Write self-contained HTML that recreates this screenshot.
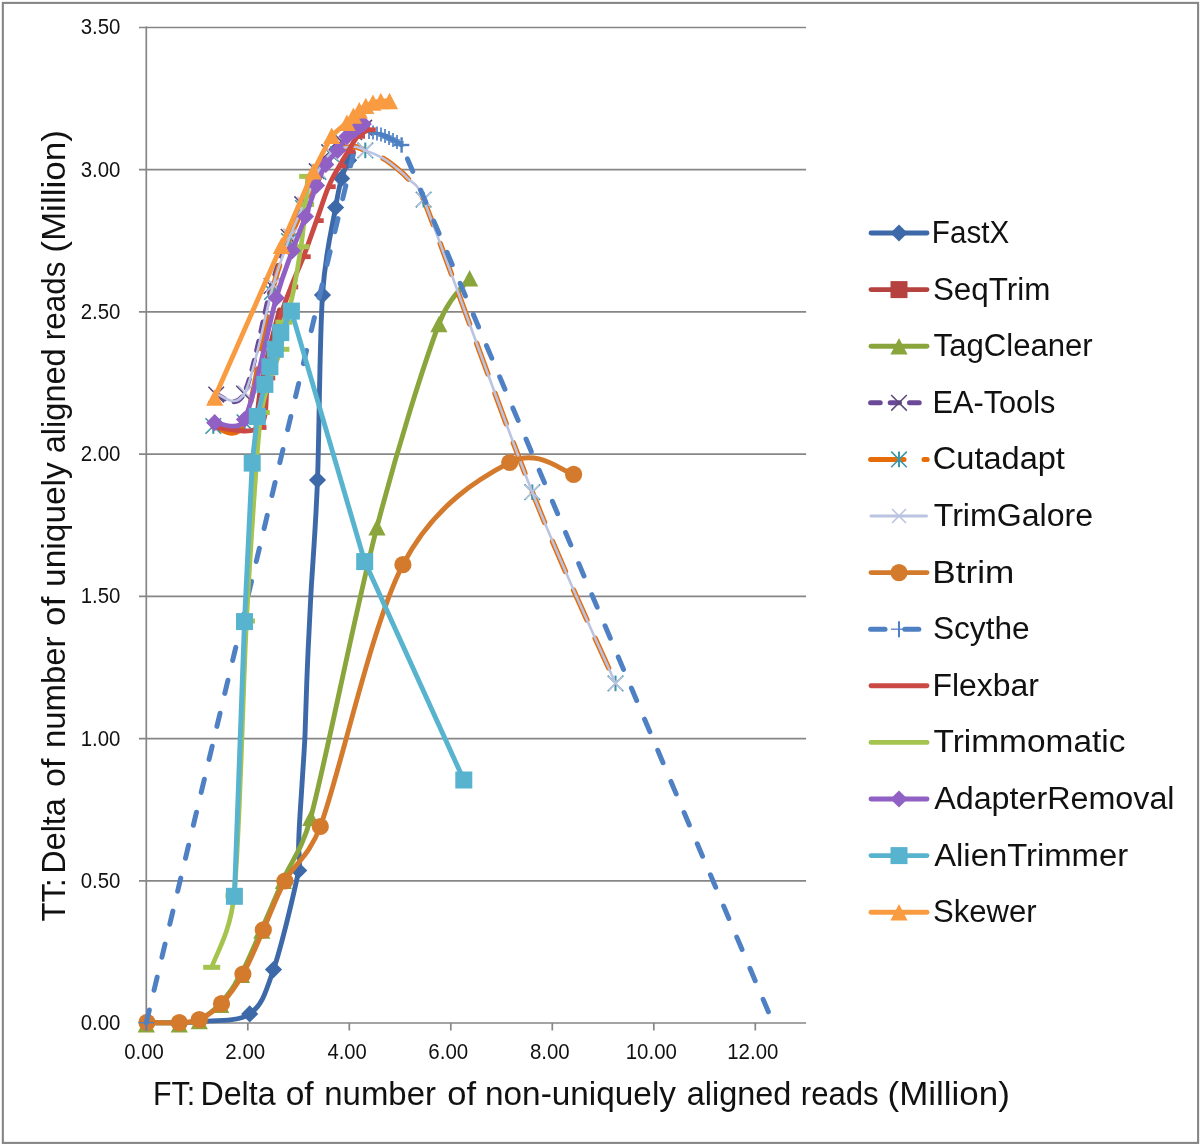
<!DOCTYPE html>
<html lang="en"><head><meta charset="utf-8"><title>Adapter trimming chart</title>
<style>html,body{margin:0;padding:0;background:#fff}body{width:1200px;height:1145px;overflow:hidden}svg{display:block}text{font-family:"Liberation Sans",sans-serif;fill:#111111}</style></head><body>
<svg width="1200" height="1145" viewBox="0 0 1200 1145" style="will-change:transform">
<rect x="0" y="0" width="1200" height="1145" fill="#fff"/>
<rect x="2.85" y="2.9" width="1195.25" height="1140" fill="none" stroke="#868686" stroke-width="2.1"/>
<path d="M139 1023 H806.1" stroke="#868686" stroke-width="1.7" fill="none"/>
<path d="M139 880.8 H806.1" stroke="#868686" stroke-width="1.7" fill="none"/>
<path d="M139 738.6 H806.1" stroke="#868686" stroke-width="1.7" fill="none"/>
<path d="M139 596.3 H806.1" stroke="#868686" stroke-width="1.7" fill="none"/>
<path d="M139 454.1 H806.1" stroke="#868686" stroke-width="1.7" fill="none"/>
<path d="M139 311.9 H806.1" stroke="#868686" stroke-width="1.7" fill="none"/>
<path d="M139 169.7 H806.1" stroke="#868686" stroke-width="1.7" fill="none"/>
<path d="M139 27.5 H806.1" stroke="#868686" stroke-width="1.7" fill="none"/>
<path d="M146.3 26.6 V1023.9" stroke="#868686" stroke-width="1.7" fill="none"/>
<path d="M146.3 1023 V1030.5" stroke="#868686" stroke-width="1.7" fill="none"/>
<path d="M247.8 1023 V1030.5" stroke="#868686" stroke-width="1.7" fill="none"/>
<path d="M349.3 1023 V1030.5" stroke="#868686" stroke-width="1.7" fill="none"/>
<path d="M450.8 1023 V1030.5" stroke="#868686" stroke-width="1.7" fill="none"/>
<path d="M552.3 1023 V1030.5" stroke="#868686" stroke-width="1.7" fill="none"/>
<path d="M653.8 1023 V1030.5" stroke="#868686" stroke-width="1.7" fill="none"/>
<path d="M755.3 1023 V1030.5" stroke="#868686" stroke-width="1.7" fill="none"/>
<text x="80.69" y="1029.9" font-size="22" textLength="39.75" lengthAdjust="spacingAndGlyphs">0.00</text>
<text x="80.69" y="887.7" font-size="22" textLength="39.75" lengthAdjust="spacingAndGlyphs">0.50</text>
<text x="80.69" y="745.5" font-size="22" textLength="39.75" lengthAdjust="spacingAndGlyphs">1.00</text>
<text x="80.69" y="603.2" font-size="22" textLength="39.75" lengthAdjust="spacingAndGlyphs">1.50</text>
<text x="80.69" y="461" font-size="22" textLength="39.75" lengthAdjust="spacingAndGlyphs">2.00</text>
<text x="80.69" y="318.8" font-size="22" textLength="39.75" lengthAdjust="spacingAndGlyphs">2.50</text>
<text x="80.69" y="176.6" font-size="22" textLength="39.75" lengthAdjust="spacingAndGlyphs">3.00</text>
<text x="80.69" y="34.4" font-size="22" textLength="39.75" lengthAdjust="spacingAndGlyphs">3.50</text>
<text x="124.19" y="1059.2" font-size="22" textLength="39.54" lengthAdjust="spacingAndGlyphs">0.00</text>
<text x="225.27" y="1059.2" font-size="22" textLength="39.97" lengthAdjust="spacingAndGlyphs">2.00</text>
<text x="327.40" y="1059.2" font-size="22" textLength="39.33" lengthAdjust="spacingAndGlyphs">4.00</text>
<text x="428.27" y="1059.2" font-size="22" textLength="39.97" lengthAdjust="spacingAndGlyphs">6.00</text>
<text x="529.98" y="1059.2" font-size="22" textLength="39.76" lengthAdjust="spacingAndGlyphs">8.00</text>
<text x="625.77" y="1059.2" font-size="22" textLength="51.07" lengthAdjust="spacingAndGlyphs">10.00</text>
<text x="727.27" y="1059.2" font-size="22" textLength="51.07" lengthAdjust="spacingAndGlyphs">12.00</text>
<text x="153.08" y="1104.7" font-size="32.5" textLength="42.09" lengthAdjust="spacingAndGlyphs">FT:</text>
<text x="200.42" y="1104.7" font-size="32.5" textLength="75.20" lengthAdjust="spacingAndGlyphs">Delta</text>
<text x="285.66" y="1104.7" font-size="32.5" textLength="28.02" lengthAdjust="spacingAndGlyphs">of</text>
<text x="324.27" y="1104.7" font-size="32.5" textLength="111.65" lengthAdjust="spacingAndGlyphs">number</text>
<text x="447.37" y="1104.7" font-size="32.5" textLength="28.81" lengthAdjust="spacingAndGlyphs">of</text>
<text x="485.00" y="1104.7" font-size="32.5" textLength="191.00" lengthAdjust="spacingAndGlyphs">non-uniquely</text>
<text x="686.80" y="1104.7" font-size="32.5" textLength="104.62" lengthAdjust="spacingAndGlyphs">aligned</text>
<text x="800.83" y="1104.7" font-size="32.5" textLength="77.80" lengthAdjust="spacingAndGlyphs">reads</text>
<text x="887.50" y="1104.7" font-size="32.5" textLength="122.35" lengthAdjust="spacingAndGlyphs">(Million)</text>
<text transform="translate(64.7 920.90) rotate(-90)" x="-0.62" y="0" font-size="32.5" textLength="43.26" lengthAdjust="spacingAndGlyphs">TT:</text>
<text transform="translate(64.7 871.10) rotate(-90)" x="-2.59" y="0" font-size="32.5" textLength="75.46" lengthAdjust="spacingAndGlyphs">Delta</text>
<text transform="translate(64.7 785.60) rotate(-90)" x="-1.37" y="0" font-size="32.5" textLength="28.60" lengthAdjust="spacingAndGlyphs">of</text>
<text transform="translate(64.7 746.00) rotate(-90)" x="-1.97" y="0" font-size="32.5" textLength="111.40" lengthAdjust="spacingAndGlyphs">number</text>
<text transform="translate(64.7 624.50) rotate(-90)" x="-1.41" y="0" font-size="32.5" textLength="29.33" lengthAdjust="spacingAndGlyphs">of</text>
<text transform="translate(64.7 584.90) rotate(-90)" x="-2.01" y="0" font-size="32.5" textLength="124.71" lengthAdjust="spacingAndGlyphs">uniquely</text>
<text transform="translate(64.7 452.00) rotate(-90)" x="-1.30" y="0" font-size="32.5" textLength="105.03" lengthAdjust="spacingAndGlyphs">aligned</text>
<text transform="translate(64.7 338.30) rotate(-90)" x="-1.89" y="0" font-size="32.5" textLength="78.63" lengthAdjust="spacingAndGlyphs">reads</text>
<text transform="translate(64.7 250.70) rotate(-90)" x="-2.10" y="0" font-size="32.5" textLength="122.76" lengthAdjust="spacingAndGlyphs">(Million)</text>
<path d="M146.3 1022.7 C151.8 1022.7 170.2 1022.9 179 1022.7 C187.8 1022.5 189.1 1022.7 199 1021.5 C210.8 1020 237.3 1022.5 249.7 1013.9 C262.1 1005.2 265.4 993.4 273.5 969.6 C281.7 945.7 294.5 891.1 298.7 870.5 C301.1 858.5 298.4 855.2 298.6 846 C298.8 836.8 299.3 826.8 300 815 C300.7 803.2 301.8 788.3 302.6 775 C303.4 761.7 304.2 752.7 305 735 C305.8 717.3 306.3 692.2 307.3 669 C308.3 645.8 309.1 627.5 310.8 596 C312.5 564.5 315.6 530.1 317.5 480 C319.4 429.9 319.5 340.5 322.5 295.1 C325.4 250.9 332.4 226.9 335.6 207.5 C338 192.8 339.4 186.3 341.6 178.4 C343.8 170.5 347.4 163.3 348.6 160.3" fill="none" stroke="#3D69A8" stroke-width="4.9" stroke-linecap="round" stroke-linejoin="round"/>
<path d="M249.7 1005.3 L258.3 1013.9 L249.7 1022.5 L241.1 1013.9Z" fill="#3D69A8"/>
<path d="M273.5 961 L282.1 969.6 L273.5 978.2 L264.9 969.6Z" fill="#3D69A8"/>
<path d="M298.7 861.9 L307.3 870.5 L298.7 879.1 L290.1 870.5Z" fill="#3D69A8"/>
<path d="M317.5 471.4 L326.1 480 L317.5 488.6 L308.9 480Z" fill="#3D69A8"/>
<path d="M322.5 286.5 L331.1 295.1 L322.5 303.7 L313.9 295.1Z" fill="#3D69A8"/>
<path d="M335.6 198.9 L344.2 207.5 L335.6 216.1 L327 207.5Z" fill="#3D69A8"/>
<path d="M341.6 169.8 L350.2 178.4 L341.6 187 L333 178.4Z" fill="#3D69A8"/>
<path d="M348.6 151.7 L357.2 160.3 L348.6 168.9 L340 160.3Z" fill="#3D69A8"/>
<path d="M256 428 C257 420 258.1 399.7 262 380 C265.9 360.3 276.5 321.7 279.4 310" fill="none" stroke="#B5423F" stroke-width="4.9" stroke-linecap="round" stroke-linejoin="round"/>
<path d="M146.3 1022.7 C151.8 1022.7 170.5 1023.2 179.3 1022.7 C188.1 1022.2 192.4 1022.9 199.3 1019.6 C206.2 1016.4 213.7 1010.9 220.7 1003.2 C227.7 995.5 234.7 985.8 241.5 973.4 C248.3 961 254.8 944.7 261.8 929 C268.8 913.3 275.2 897.8 283.4 879.2 C291.6 860.6 302.1 850.1 310.8 817.5 C326.4 758.8 355.6 609.3 377 527 C398.4 444.7 423.5 365.4 438.9 323.9 C448.5 298.1 464.5 285.7 469.6 278.1" fill="none" stroke="#89A53C" stroke-width="4.9" stroke-linecap="round" stroke-linejoin="round"/>
<path d="M146.3 1016 L154.9 1032.4 L137.7 1032.4Z" fill="#89A53C"/>
<path d="M179.3 1016 L187.9 1032.4 L170.7 1032.4Z" fill="#89A53C"/>
<path d="M199.3 1012.9 L207.9 1029.3 L190.7 1029.3Z" fill="#89A53C"/>
<path d="M220.7 996.5 L229.3 1012.9 L212.1 1012.9Z" fill="#89A53C"/>
<path d="M241.5 966.7 L250.1 983.1 L232.9 983.1Z" fill="#89A53C"/>
<path d="M261.8 922.3 L270.4 938.7 L253.2 938.7Z" fill="#89A53C"/>
<path d="M283.4 872.5 L292 888.9 L274.8 888.9Z" fill="#89A53C"/>
<path d="M310.8 809.5 L319.4 825.9 L302.2 825.9Z" fill="#89A53C"/>
<path d="M377 519 L385.6 535.4 L368.4 535.4Z" fill="#89A53C"/>
<path d="M438.9 315.9 L447.5 332.3 L430.3 332.3Z" fill="#89A53C"/>
<path d="M469.6 270.1 L478.2 286.5 L461 286.5Z" fill="#89A53C"/>
<path d="M216.2 394.6 C220.8 394.4 234.8 411.7 244 393.6 C253.2 375.5 264.1 312.1 271.5 286 C278.9 259.9 283.5 250.4 288.6 236.8 C293.7 223.2 297.5 215.1 302.2 204.2 C306.9 193.3 312.2 179.9 316.7 171.2 C321.2 162.5 325.1 157.2 329.2 152.2 C333.3 147.2 337 144.5 341.2 141.2 C345.4 137.9 350.4 134.4 354.2 132.2 C358 129.9 362.5 128.4 364.2 127.7" fill="none" stroke="#6A4A98" stroke-width="5" stroke-linecap="round" stroke-linejoin="round" stroke-dasharray="9.5 10"/>
<path d="M208.4 386.8 L224 402.4 M208.4 402.4 L224 386.8" stroke="#5C4778" stroke-width="1.5" fill="none"/>
<path d="M236.2 385.8 L251.8 401.4 M236.2 401.4 L251.8 385.8" stroke="#5C4778" stroke-width="1.5" fill="none"/>
<path d="M263.7 278.2 L279.3 293.8 M263.7 293.8 L279.3 278.2" stroke="#5C4778" stroke-width="1.5" fill="none"/>
<path d="M280.8 229 L296.4 244.6 M280.8 244.6 L296.4 229" stroke="#5C4778" stroke-width="1.5" fill="none"/>
<path d="M294.4 196.4 L310 212 M294.4 212 L310 196.4" stroke="#5C4778" stroke-width="1.5" fill="none"/>
<path d="M308.9 163.4 L324.5 179 M308.9 179 L324.5 163.4" stroke="#5C4778" stroke-width="1.5" fill="none"/>
<path d="M321.4 144.4 L337 160 M321.4 160 L337 144.4" stroke="#5C4778" stroke-width="1.5" fill="none"/>
<path d="M333.4 133.4 L349 149 M333.4 149 L349 133.4" stroke="#5C4778" stroke-width="1.5" fill="none"/>
<path d="M346.4 124.4 L362 140 M346.4 140 L362 124.4" stroke="#5C4778" stroke-width="1.5" fill="none"/>
<path d="M356.4 119.9 L372 135.5 M356.4 135.5 L372 119.9" stroke="#5C4778" stroke-width="1.5" fill="none"/>
<path d="M213.3 426 C218.5 425.4 234.7 444.6 244.5 422.3 C254.3 400 264.6 322.2 272 292 C279.4 261.8 283.8 255 289 241 C294.2 227 298.1 219.5 303 208 C307.9 196.5 313.8 181 318.5 172 C323.2 163 325.4 158.2 331 154 C336.6 149.8 346.3 147.2 352 146.6 C357.7 146 360.3 148.6 365.3 150.4 C370.3 152.2 376.9 154.9 381.9 157.7 C386.9 160.5 391.1 163.7 395.5 167.2 C399.9 170.7 403.4 173.3 408.1 178.7 C412.8 184.1 415.9 180.2 423.6 199.6 C444.3 251.8 500.3 411.6 532.3 492.2 C564.3 572.8 601.6 651.5 615.5 683.4" fill="none" stroke="#E66C0A" stroke-width="5.4" stroke-linecap="round" stroke-linejoin="round" stroke-dasharray="32.6 20.4" stroke-dashoffset="-7"/>
<path d="M205.5 418.2 L221.1 433.8 M205.5 433.8 L221.1 418.2" stroke="#3E97A7" stroke-width="1.6" fill="none"/>
<path d="M213.3 418.2 V433.8" stroke="#3E97A7" stroke-width="2.1" fill="none"/>
<path d="M236.7 414.5 L252.3 430.1 M236.7 430.1 L252.3 414.5" stroke="#3E97A7" stroke-width="1.6" fill="none"/>
<path d="M244.5 414.5 V430.1" stroke="#3E97A7" stroke-width="2.1" fill="none"/>
<path d="M264.2 284.2 L279.8 299.8 M264.2 299.8 L279.8 284.2" stroke="#3E97A7" stroke-width="1.6" fill="none"/>
<path d="M272 284.2 V299.8" stroke="#3E97A7" stroke-width="2.1" fill="none"/>
<path d="M281.2 233.2 L296.8 248.8 M281.2 248.8 L296.8 233.2" stroke="#3E97A7" stroke-width="1.6" fill="none"/>
<path d="M289 233.2 V248.8" stroke="#3E97A7" stroke-width="2.1" fill="none"/>
<path d="M295.2 200.2 L310.8 215.8 M295.2 215.8 L310.8 200.2" stroke="#3E97A7" stroke-width="1.6" fill="none"/>
<path d="M303 200.2 V215.8" stroke="#3E97A7" stroke-width="2.1" fill="none"/>
<path d="M310.7 164.2 L326.3 179.8 M310.7 179.8 L326.3 164.2" stroke="#3E97A7" stroke-width="1.6" fill="none"/>
<path d="M318.5 164.2 V179.8" stroke="#3E97A7" stroke-width="2.1" fill="none"/>
<path d="M323.2 146.2 L338.8 161.8 M323.2 161.8 L338.8 146.2" stroke="#3E97A7" stroke-width="1.6" fill="none"/>
<path d="M331 146.2 V161.8" stroke="#3E97A7" stroke-width="2.1" fill="none"/>
<path d="M357.5 142.6 L373.1 158.2 M357.5 158.2 L373.1 142.6" stroke="#3E97A7" stroke-width="1.6" fill="none"/>
<path d="M365.3 142.6 V158.2" stroke="#3E97A7" stroke-width="2.1" fill="none"/>
<path d="M415.8 191.8 L431.4 207.4 M415.8 207.4 L431.4 191.8" stroke="#3E97A7" stroke-width="1.6" fill="none"/>
<path d="M423.6 191.8 V207.4" stroke="#3E97A7" stroke-width="2.1" fill="none"/>
<path d="M524.5 484.4 L540.1 500 M524.5 500 L540.1 484.4" stroke="#3E97A7" stroke-width="1.6" fill="none"/>
<path d="M532.3 484.4 V500" stroke="#3E97A7" stroke-width="2.1" fill="none"/>
<path d="M607.7 675.6 L623.3 691.2 M607.7 691.2 L623.3 675.6" stroke="#3E97A7" stroke-width="1.6" fill="none"/>
<path d="M615.5 675.6 V691.2" stroke="#3E97A7" stroke-width="2.1" fill="none"/>
<path d="M216.6 394.3 C221.3 394 235.6 410.8 245 392.5 C254.4 374.2 265.7 310.9 273.3 284.8 C280.9 258.7 285.3 249.1 290.4 235.6 C295.5 222.1 299.3 214.8 304 204 C308.7 193.2 314 179.5 318.5 171 C323 162.5 325.4 157.1 331 153 C336.6 148.9 346.3 147 352 146.6 C357.7 146.2 360.3 148.6 365.3 150.4 C370.3 152.2 376.9 154.9 381.9 157.7 C386.9 160.5 391.1 163.7 395.5 167.2 C399.9 170.7 403.4 173.3 408.1 178.7 C412.8 184.1 415.9 180.2 423.6 199.6 C444.3 251.8 500.3 411.6 532.3 492.2 C564.3 572.8 601.6 651.5 615.5 683.4" fill="none" stroke="#BAC3E2" stroke-width="2.6" stroke-linecap="round" stroke-linejoin="round"/>
<path d="M238 385.5 L252 399.5 M238 399.5 L252 385.5" stroke="#BAC3E2" stroke-width="1.6" fill="none"/>
<path d="M266.3 277.8 L280.3 291.8 M266.3 291.8 L280.3 277.8" stroke="#BAC3E2" stroke-width="1.6" fill="none"/>
<path d="M283.4 228.6 L297.4 242.6 M283.4 242.6 L297.4 228.6" stroke="#BAC3E2" stroke-width="1.6" fill="none"/>
<path d="M297 197 L311 211 M297 211 L311 197" stroke="#BAC3E2" stroke-width="1.6" fill="none"/>
<path d="M311.5 164 L325.5 178 M311.5 178 L325.5 164" stroke="#BAC3E2" stroke-width="1.6" fill="none"/>
<path d="M324 146 L338 160 M324 160 L338 146" stroke="#BAC3E2" stroke-width="1.6" fill="none"/>
<path d="M358.3 143.4 L372.3 157.4 M358.3 157.4 L372.3 143.4" stroke="#BAC3E2" stroke-width="1.6" fill="none"/>
<path d="M416.6 192.6 L430.6 206.6 M416.6 206.6 L430.6 192.6" stroke="#BAC3E2" stroke-width="1.6" fill="none"/>
<path d="M525.3 485.2 L539.3 499.2 M525.3 499.2 L539.3 485.2" stroke="#BAC3E2" stroke-width="1.6" fill="none"/>
<path d="M608.5 676.4 L622.5 690.4 M608.5 690.4 L622.5 676.4" stroke="#BAC3E2" stroke-width="1.6" fill="none"/>
<path d="M147 1022.3 C152.4 1022.4 170.6 1023.2 179.3 1022.7 C188 1022.2 192.3 1022.8 199.3 1019.6 C206.3 1016.4 214.2 1011.3 221.5 1003.7 C228.8 996.1 235.9 986.4 242.9 974.1 C249.9 961.8 256.3 945.4 263.3 929.9 C270.3 914.4 275.4 898.2 284.9 881 C294.4 863.8 308.9 856.9 320.3 826.5 C340 773.8 371.3 625.4 402.9 564.7 C434.5 504 481.2 477.6 509.7 462.5 C538.1 447.4 563 472.4 573.6 474.4" fill="none" stroke="#D47A2D" stroke-width="4.9" stroke-linecap="round" stroke-linejoin="round"/>
<circle cx="147" cy="1022.3" r="8.6" fill="#D47A2D"/>
<circle cx="179.3" cy="1022.7" r="8.6" fill="#D47A2D"/>
<circle cx="199.3" cy="1019.6" r="8.6" fill="#D47A2D"/>
<circle cx="221.5" cy="1003.7" r="8.6" fill="#D47A2D"/>
<circle cx="242.9" cy="974.1" r="8.6" fill="#D47A2D"/>
<circle cx="263.3" cy="929.9" r="8.6" fill="#D47A2D"/>
<circle cx="284.9" cy="881" r="8.6" fill="#D47A2D"/>
<circle cx="320.3" cy="826.5" r="8.6" fill="#D47A2D"/>
<circle cx="402.9" cy="564.7" r="8.6" fill="#D47A2D"/>
<circle cx="509.7" cy="462.5" r="8.6" fill="#D47A2D"/>
<circle cx="573.6" cy="474.4" r="8.6" fill="#D47A2D"/>
<path d="M146.3 1022.7 L358.5 132.5" fill="none" stroke="#4E80C3" stroke-width="5" stroke-linecap="round" stroke-linejoin="round" stroke-dasharray="13.5 20.4" stroke-dashoffset="0.5"/>
<path d="M381 134.5 L385 136 L389 138 L393 140 L397 142 L401.6 145" fill="none" stroke="#4E80C3" stroke-width="5" stroke-linecap="round" stroke-linejoin="round"/>
<path d="M401.6 145 L773 1022.7" fill="none" stroke="#4E80C3" stroke-width="5" stroke-linecap="round" stroke-linejoin="round" stroke-dasharray="13.5 20.3" stroke-dashoffset="-15.1"/>
<path d="M138.3 1022.7 H154.3" stroke="#4E80C3" stroke-width="1.3" fill="none"/>
<path d="M146.3 1014.7 V1030.7" stroke="#4E80C3" stroke-width="2" fill="none"/>
<path d="M362 132 H376" stroke="#4E80C3" stroke-width="1.3" fill="none"/>
<path d="M369 125 V139" stroke="#4E80C3" stroke-width="1.7" fill="none"/>
<path d="M366 132.5 H380" stroke="#4E80C3" stroke-width="1.3" fill="none"/>
<path d="M373 125.5 V139.5" stroke="#4E80C3" stroke-width="1.7" fill="none"/>
<path d="M370 133.5 H384" stroke="#4E80C3" stroke-width="1.3" fill="none"/>
<path d="M377 126.5 V140.5" stroke="#4E80C3" stroke-width="1.7" fill="none"/>
<path d="M374 134.5 H388" stroke="#4E80C3" stroke-width="1.3" fill="none"/>
<path d="M381 127.5 V141.5" stroke="#4E80C3" stroke-width="1.7" fill="none"/>
<path d="M378 136 H392" stroke="#4E80C3" stroke-width="1.3" fill="none"/>
<path d="M385 129 V143" stroke="#4E80C3" stroke-width="1.7" fill="none"/>
<path d="M382 138 H396" stroke="#4E80C3" stroke-width="1.3" fill="none"/>
<path d="M389 131 V145" stroke="#4E80C3" stroke-width="1.7" fill="none"/>
<path d="M386 140 H400" stroke="#4E80C3" stroke-width="1.3" fill="none"/>
<path d="M393 133 V147" stroke="#4E80C3" stroke-width="1.7" fill="none"/>
<path d="M390 142 H404" stroke="#4E80C3" stroke-width="1.3" fill="none"/>
<path d="M397 135 V149" stroke="#4E80C3" stroke-width="1.7" fill="none"/>
<path d="M393.9 145 H409.3" stroke="#4E80C3" stroke-width="2.4" fill="none"/>
<path d="M401.6 137.3 V152.7" stroke="#4E80C3" stroke-width="2.4" fill="none"/>
<path d="M213 427 C220.7 427.1 250.1 435.7 259.3 427.5 C268.5 419.3 264.7 395.6 268 378 C271.3 360.4 275.2 337.2 279 322 C282.8 306.8 286.9 297.9 291 287 C295.1 276.1 299.2 267.8 303.5 256.7 C307.8 245.6 312.3 232.3 316.5 220.6 C320.7 208.9 324.7 195.8 328.5 186.7 C332.3 177.6 336.1 172 339.3 166.1 C342.6 160.2 344.9 156.5 348 151.5 C351.1 146.5 354.4 139.9 357.8 136.3 C361.2 132.7 366.8 130.9 368.6 129.8" fill="none" stroke="#CB4944" stroke-width="4.9" stroke-linecap="round" stroke-linejoin="round"/>
<path d="M213 427 L220.2 427" stroke="#CB4944" stroke-width="4.8" fill="none"/>
<path d="M259.3 427.5 L266.5 427.5" stroke="#CB4944" stroke-width="4.8" fill="none"/>
<path d="M268 378 L275.2 378" stroke="#CB4944" stroke-width="4.8" fill="none"/>
<path d="M279 322 L286.2 322" stroke="#CB4944" stroke-width="4.8" fill="none"/>
<path d="M291 287 L298.2 287" stroke="#CB4944" stroke-width="4.8" fill="none"/>
<path d="M303.5 256.7 L310.7 256.7" stroke="#CB4944" stroke-width="4.8" fill="none"/>
<path d="M316.5 220.6 L323.7 220.6" stroke="#CB4944" stroke-width="4.8" fill="none"/>
<path d="M328.5 186.7 L335.7 186.7" stroke="#CB4944" stroke-width="4.8" fill="none"/>
<path d="M339.3 166.1 L346.5 166.1" stroke="#CB4944" stroke-width="4.8" fill="none"/>
<path d="M348 151.5 L355.2 151.5" stroke="#CB4944" stroke-width="4.8" fill="none"/>
<path d="M357.8 136.3 L365 136.3" stroke="#CB4944" stroke-width="4.8" fill="none"/>
<path d="M368.6 129.8 L375.8 129.8" stroke="#CB4944" stroke-width="4.8" fill="none"/>
<path d="M211.7 967.3 C215.4 955.4 230.3 933.1 234 895.8 C239.8 838.1 242.7 693.3 246.5 621 C250.3 548.7 254.1 496.8 256.6 462 C258.4 437.2 259.3 425.5 261.3 412.5 C263.3 399.5 266.3 391.8 268.5 384 C270.7 376.2 272.4 371.8 274.5 366 C276.6 360.2 279.3 356.6 280.9 349.3 C282.5 342 282.1 330.4 283.9 322.2 C285.7 314 288.9 311.4 291.5 300 C294.4 287.4 298.6 262.6 301 246.7 C303.4 230.8 304.5 216.2 305.6 204.5 C306.7 192.8 307.4 181.1 307.7 176.4" fill="none" stroke="#A5C34F" stroke-width="4.7" stroke-linecap="round" stroke-linejoin="round"/>
<path d="M203.2 967.3 L220.2 967.3" stroke="#A5C34F" stroke-width="5" fill="none"/>
<path d="M225.5 895.8 L242.5 895.8" stroke="#A5C34F" stroke-width="5" fill="none"/>
<path d="M238 621 L255 621" stroke="#A5C34F" stroke-width="5" fill="none"/>
<path d="M252.8 412.5 L269.8 412.5" stroke="#A5C34F" stroke-width="5" fill="none"/>
<path d="M272.4 349.3 L289.4 349.3" stroke="#A5C34F" stroke-width="5" fill="none"/>
<path d="M275.4 322.2 L292.4 322.2" stroke="#A5C34F" stroke-width="5" fill="none"/>
<path d="M292.5 246.7 L309.5 246.7" stroke="#A5C34F" stroke-width="5" fill="none"/>
<path d="M297.1 204.5 L314.1 204.5" stroke="#A5C34F" stroke-width="5" fill="none"/>
<path d="M299.2 176.4 L316.2 176.4" stroke="#A5C34F" stroke-width="5" fill="none"/>
<path d="M214.7 422.7 C219.7 422.2 237.9 432.9 244.5 419.5 C254.8 398.7 268.3 326 276.3 297.9 C283.1 273.9 287.5 264.3 292.4 250.7 C297.3 237.1 301.5 227.4 305.5 216.5 C309.5 205.6 313.1 194.1 316.5 185.4 C319.9 176.7 322.3 170.3 325.8 164.5 C329.3 158.7 334.2 155.1 337.7 150.4 C341.2 145.8 344.1 139.9 346.9 136.6 C349.7 133.2 352.5 132 354.6 130.3 C356.7 128.6 358.1 127.3 359.5 126.3 C360.9 125.2 362.7 124.4 363.3 124" fill="none" stroke="#9160C4" stroke-width="4.9" stroke-linecap="round" stroke-linejoin="round"/>
<path d="M214.7 414.1 L223.3 422.7 L214.7 431.3 L206.1 422.7Z" fill="#9160C4"/>
<path d="M244.5 410.9 L253.1 419.5 L244.5 428.1 L235.9 419.5Z" fill="#9160C4"/>
<path d="M276.3 289.3 L284.9 297.9 L276.3 306.5 L267.7 297.9Z" fill="#9160C4"/>
<path d="M292.4 242.1 L301 250.7 L292.4 259.3 L283.8 250.7Z" fill="#9160C4"/>
<path d="M305.5 207.9 L314.1 216.5 L305.5 225.1 L296.9 216.5Z" fill="#9160C4"/>
<path d="M316.5 176.8 L325.1 185.4 L316.5 194 L307.9 185.4Z" fill="#9160C4"/>
<path d="M325.8 155.9 L334.4 164.5 L325.8 173.1 L317.2 164.5Z" fill="#9160C4"/>
<path d="M337.7 141.8 L346.3 150.4 L337.7 159 L329.1 150.4Z" fill="#9160C4"/>
<path d="M346.9 128 L355.5 136.6 L346.9 145.2 L338.3 136.6Z" fill="#9160C4"/>
<path d="M354.6 121.7 L363.2 130.3 L354.6 138.9 L346 130.3Z" fill="#9160C4"/>
<path d="M359.5 117.7 L368.1 126.3 L359.5 134.9 L350.9 126.3Z" fill="#9160C4"/>
<path d="M363.3 115.4 L371.9 124 L363.3 132.6 L354.7 124Z" fill="#9160C4"/>
<path d="M234.4 896.3 L244.5 621.6 L252.2 463.1 L257.3 416.5 L264.9 384.4 L269.9 366.7 L275.3 349.3 L280.8 332.6 L291.4 311.1 L364.7 561.6 L463.8 780" fill="none" stroke="#58B3CF" stroke-width="4.9" stroke-linecap="round" stroke-linejoin="round"/>
<rect x="225.9" y="887.8" width="17" height="17" fill="#58B3CF"/>
<rect x="236" y="613.1" width="17" height="17" fill="#58B3CF"/>
<rect x="243.7" y="454.6" width="17" height="17" fill="#58B3CF"/>
<rect x="248.8" y="408" width="17" height="17" fill="#58B3CF"/>
<rect x="256.4" y="375.9" width="17" height="17" fill="#58B3CF"/>
<rect x="261.4" y="358.2" width="17" height="17" fill="#58B3CF"/>
<rect x="266.8" y="340.8" width="17" height="17" fill="#58B3CF"/>
<rect x="272.3" y="324.1" width="17" height="17" fill="#58B3CF"/>
<rect x="282.9" y="302.6" width="17" height="17" fill="#58B3CF"/>
<rect x="356.2" y="553.1" width="17" height="17" fill="#58B3CF"/>
<rect x="455.3" y="771.5" width="17" height="17" fill="#58B3CF"/>
<path d="M214.7 397.5 L281.4 245.7 L313.3 171.4 L331.7 135.7 L346.9 122.7 L353.4 115.6 L359.3 110.2 L365.8 105.9 L372.9 102.6 L380.8 101 L389.5 101" fill="none" stroke="#F99B41" stroke-width="4.9" stroke-linecap="round" stroke-linejoin="round"/>
<path d="M214.7 389.3 L223.3 405.7 L206.1 405.7Z" fill="#F99B41"/>
<path d="M281.4 237.5 L290 253.9 L272.8 253.9Z" fill="#F99B41"/>
<path d="M313.3 163.2 L321.9 179.6 L304.7 179.6Z" fill="#F99B41"/>
<path d="M331.7 127.5 L340.3 143.9 L323.1 143.9Z" fill="#F99B41"/>
<path d="M346.9 114.5 L355.5 130.9 L338.3 130.9Z" fill="#F99B41"/>
<path d="M353.4 107.4 L362 123.8 L344.8 123.8Z" fill="#F99B41"/>
<path d="M359.3 102 L367.9 118.4 L350.7 118.4Z" fill="#F99B41"/>
<path d="M365.8 97.7 L374.4 114.1 L357.2 114.1Z" fill="#F99B41"/>
<path d="M372.9 94.4 L381.5 110.8 L364.3 110.8Z" fill="#F99B41"/>
<path d="M380.8 92.8 L389.4 109.2 L372.2 109.2Z" fill="#F99B41"/>
<path d="M389.5 92.8 L398.1 109.2 L380.9 109.2Z" fill="#F99B41"/>
<path d="M871 233 H927" fill="none" stroke="#3D69A8" stroke-width="4.9" stroke-linecap="round" stroke-linejoin="round"/>
<path d="M899 224.4 L907.6 233 L899 241.6 L890.4 233Z" fill="#3D69A8"/>
<path d="M871 289.6 H927" fill="none" stroke="#B5423F" stroke-width="4.9" stroke-linecap="round" stroke-linejoin="round"/>
<rect x="890.5" y="281.1" width="17" height="17" fill="#B5423F"/>
<path d="M871 346.2 H927" fill="none" stroke="#89A53C" stroke-width="4.9" stroke-linecap="round" stroke-linejoin="round"/>
<path d="M899 338.1 L907.6 354.5 L890.4 354.5Z" fill="#89A53C"/>
<path d="M870.6 402.8 H880.2" fill="none" stroke="#6A4A98" stroke-width="5" stroke-linecap="round" stroke-linejoin="round"/>
<path d="M890.2 402.8 H899.5" fill="none" stroke="#6A4A98" stroke-width="5" stroke-linecap="round" stroke-linejoin="round"/>
<path d="M909.5 402.8 H919.2" fill="none" stroke="#6A4A98" stroke-width="5" stroke-linecap="round" stroke-linejoin="round"/>
<path d="M891.2 395 L906.8 410.6 M891.2 410.6 L906.8 395" stroke="#5C4778" stroke-width="1.5" fill="none"/>
<path d="M870.6 459.4 H904" fill="none" stroke="#E66C0A" stroke-width="5" stroke-linecap="round" stroke-linejoin="round"/>
<path d="M924 459.4 H927.2" fill="none" stroke="#E66C0A" stroke-width="5" stroke-linecap="round" stroke-linejoin="round"/>
<path d="M891.2 451.6 L906.8 467.2 M891.2 467.2 L906.8 451.6" stroke="#3E97A7" stroke-width="1.6" fill="none"/>
<path d="M899 451.6 V467.2" stroke="#3E97A7" stroke-width="2.1" fill="none"/>
<path d="M871 516 H926.5" fill="none" stroke="#BAC3E2" stroke-width="3" stroke-linecap="round" stroke-linejoin="round"/>
<path d="M892 509 L906 523 M892 523 L906 509" stroke="#BAC3E2" stroke-width="1.6" fill="none"/>
<path d="M871 572.6 H927" fill="none" stroke="#D47A2D" stroke-width="4.9" stroke-linecap="round" stroke-linejoin="round"/>
<circle cx="899" cy="572.6" r="8.6" fill="#D47A2D"/>
<path d="M870.6 629.2 H885" fill="none" stroke="#4E80C3" stroke-width="5" stroke-linecap="round" stroke-linejoin="round"/>
<path d="M904.8 629.2 H918.8" fill="none" stroke="#4E80C3" stroke-width="5" stroke-linecap="round" stroke-linejoin="round"/>
<path d="M891 629.2 H907" stroke="#4E80C3" stroke-width="1.3" fill="none"/>
<path d="M899 621.2 V637.2" stroke="#4E80C3" stroke-width="2" fill="none"/>
<path d="M871 685.8 H927" fill="none" stroke="#CB4944" stroke-width="4.9" stroke-linecap="round" stroke-linejoin="round"/>
<path d="M871 742.4 H927" fill="none" stroke="#A5C34F" stroke-width="4.9" stroke-linecap="round" stroke-linejoin="round"/>
<path d="M871 799 H927" fill="none" stroke="#9160C4" stroke-width="4.9" stroke-linecap="round" stroke-linejoin="round"/>
<path d="M899 790.4 L907.6 799 L899 807.6 L890.4 799Z" fill="#9160C4"/>
<path d="M871 855.6 H927" fill="none" stroke="#58B3CF" stroke-width="4.9" stroke-linecap="round" stroke-linejoin="round"/>
<rect x="890.5" y="847.1" width="17" height="17" fill="#58B3CF"/>
<path d="M871 912.2 H927" fill="none" stroke="#F99B41" stroke-width="4.9" stroke-linecap="round" stroke-linejoin="round"/>
<path d="M899 904.1 L907.6 920.6 L890.4 920.6Z" fill="#F99B41"/>
<text x="931.83" y="243" font-size="31" textLength="77.37" lengthAdjust="spacingAndGlyphs">FastX</text>
<text x="932.94" y="299.6" font-size="31" textLength="117.43" lengthAdjust="spacingAndGlyphs">SeqTrim</text>
<text x="933.58" y="356.2" font-size="31" textLength="159.13" lengthAdjust="spacingAndGlyphs">TagCleaner</text>
<text x="932.55" y="412.8" font-size="31" textLength="122.78" lengthAdjust="spacingAndGlyphs">EA-Tools</text>
<text x="932.77" y="469.4" font-size="31" textLength="132.16" lengthAdjust="spacingAndGlyphs">Cutadapt</text>
<text x="933.76" y="526" font-size="31" textLength="159.40" lengthAdjust="spacingAndGlyphs">TrimGalore</text>
<text x="932.29" y="582.6" font-size="31" textLength="82.03" lengthAdjust="spacingAndGlyphs">Btrim</text>
<text x="932.93" y="639.2" font-size="31" textLength="96.71" lengthAdjust="spacingAndGlyphs">Scythe</text>
<text x="932.55" y="695.8" font-size="31" textLength="106.37" lengthAdjust="spacingAndGlyphs">Flexbar</text>
<text x="933.53" y="752.4" font-size="31" textLength="191.94" lengthAdjust="spacingAndGlyphs">Trimmomatic</text>
<text x="934.20" y="809" font-size="31" textLength="240.31" lengthAdjust="spacingAndGlyphs">AdapterRemoval</text>
<text x="934.20" y="865.6" font-size="31" textLength="193.93" lengthAdjust="spacingAndGlyphs">AlienTrimmer</text>
<text x="932.96" y="922.2" font-size="31" textLength="103.65" lengthAdjust="spacingAndGlyphs">Skewer</text>
</svg></body></html>
